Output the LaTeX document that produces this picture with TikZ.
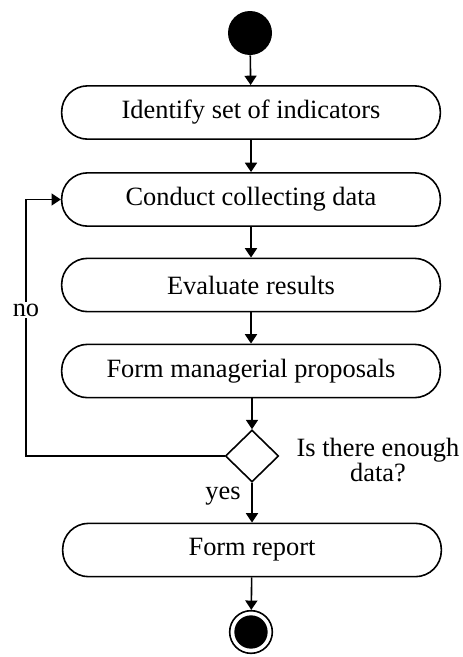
\documentclass[tikz,border=0pt]{standalone}
\usepackage{fontspec}
\setmainfont{Liberation Serif}
\usetikzlibrary{shapes.geometric,arrows.meta}
\begin{document}
\begin{tikzpicture}[x=0.75pt,y=-0.75pt,
  every node/.style={font=\fontsize{19.8}{18}\selectfont},
  act/.style={draw,line width=1.2pt,rounded corners=19.5pt,minimum width=284pt,minimum height=40pt,inner sep=0pt},
  dec/.style={draw,line width=1.2pt,diamond,minimum width=40pt,minimum height=39pt,inner sep=0pt},
  flow/.style={line width=1.2pt,-{Triangle[width=9pt,length=7pt]}},
  lbl/.style={inner sep=1pt}]
\useasboundingbox (0,0) rectangle (462,657);
\node[circle,fill=black,minimum size=33pt,inner sep=0pt] (start) at (250,33) {};
\node[act] (a1) at (251,112.5) {Identify set of indicators};
\node[act] (a2) at (251,199.5) {Conduct collecting data};
\node[act] (a3) at (251,285) {Evaluate results};
\node[act] (a4) at (251,371) {Form managerial proposals};
\node[dec] (d) at (252,456) {};
\node[act] (a5) at (252,550) {Form report};
\node[circle,draw,line width=1.2pt,minimum size=32pt,inner sep=0pt] (endo) at (251,632) {};
\node[circle,fill=black,minimum size=25pt,inner sep=0pt] (endi) at (251,632) {};
\node[align=center,inner sep=0pt] (q) at (378,460) {Is there enough\\data?};
\coordinate (c1) at (26,456);
\coordinate (c2) at (26,199.5);
\draw[flow] (start) -- (a1);
\draw[flow] (a1) -- (a2);
\draw[flow] (a2) -- (a3);
\draw[flow] (a3) -- (a4);
\draw[flow] (a4.south -| d.north) -- (d.north);
\draw[flow] (d.south) -- (a5.north -| d.south);
\draw[flow] (a5) -- (endo);
\draw[flow] (d.west) -- (c1) -- (c2) -- (a2.west);
\node[lbl,fill=white] (no) at (26,310) {no};
\node[lbl] (yes) at (223,496) {yes};
\end{tikzpicture}
\end{document}
